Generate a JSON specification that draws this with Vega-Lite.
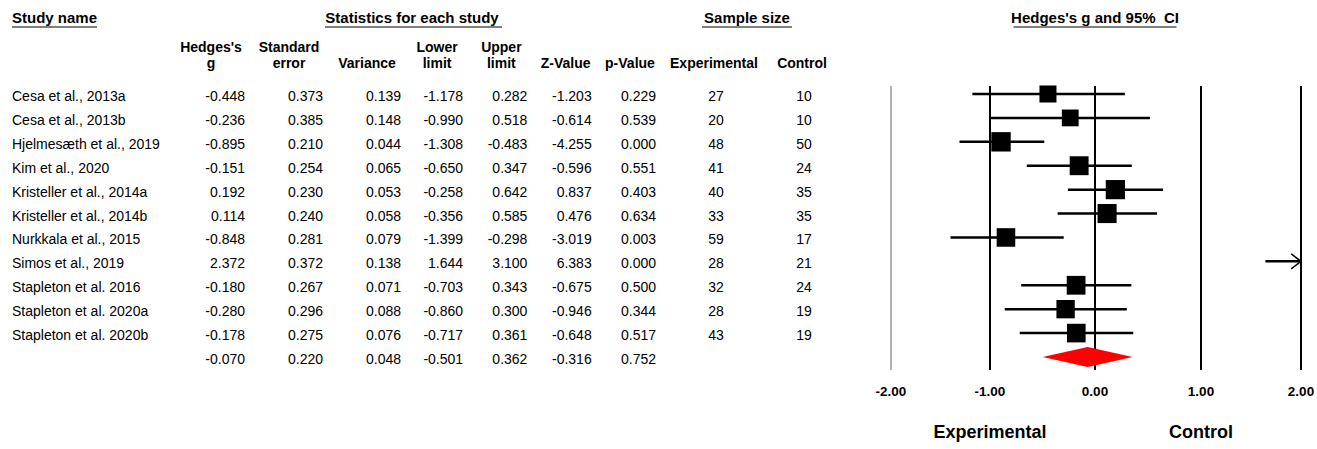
{
  "$schema": "https://vega.github.io/schema/vega-lite/v6.json",
  "width": 1317,
  "height": 449,
  "padding": 0,
  "autosize": {"type": "none"},
  "background": "white",
  "config": {
    "view": {"stroke": null},
    "font": "Liberation Sans",
    "text": {"font": "Liberation Sans", "color": "black"},
    "locale": {"number": {"decimal": ".", "thousands": ",", "grouping": [3], "currency": ["$", ""], "minus": "-"}}
  },
  "datasets": {
    "studies": [
      {"study": "Cesa et al., 2013a", "kind": "study", "g": -0.448, "se": 0.373, "var": 0.139, "lo": -1.178, "hi": 0.282, "z": -1.203, "p": 0.229, "ne": 27, "nc": 10},
      {"study": "Cesa et al., 2013b", "kind": "study", "g": -0.236, "se": 0.385, "var": 0.148, "lo": -0.990, "hi": 0.518, "z": -0.614, "p": 0.539, "ne": 20, "nc": 10},
      {"study": "Hjelmesæth et al., 2019", "kind": "study", "g": -0.895, "se": 0.210, "var": 0.044, "lo": -1.308, "hi": -0.483, "z": -4.255, "p": 0.000, "ne": 48, "nc": 50},
      {"study": "Kim et al., 2020", "kind": "study", "g": -0.151, "se": 0.254, "var": 0.065, "lo": -0.650, "hi": 0.347, "z": -0.596, "p": 0.551, "ne": 41, "nc": 24},
      {"study": "Kristeller et al., 2014a", "kind": "study", "g": 0.192, "se": 0.230, "var": 0.053, "lo": -0.258, "hi": 0.642, "z": 0.837, "p": 0.403, "ne": 40, "nc": 35},
      {"study": "Kristeller et al., 2014b", "kind": "study", "g": 0.114, "se": 0.240, "var": 0.058, "lo": -0.356, "hi": 0.585, "z": 0.476, "p": 0.634, "ne": 33, "nc": 35},
      {"study": "Nurkkala et al., 2015", "kind": "study", "g": -0.848, "se": 0.281, "var": 0.079, "lo": -1.399, "hi": -0.298, "z": -3.019, "p": 0.003, "ne": 59, "nc": 17},
      {"study": "Simos et al., 2019", "kind": "study", "g": 2.372, "se": 0.372, "var": 0.138, "lo": 1.644, "hi": 3.100, "z": 6.383, "p": 0.000, "ne": 28, "nc": 21},
      {"study": "Stapleton et al. 2016", "kind": "study", "g": -0.180, "se": 0.267, "var": 0.071, "lo": -0.703, "hi": 0.343, "z": -0.675, "p": 0.500, "ne": 32, "nc": 24},
      {"study": "Stapleton et al. 2020a", "kind": "study", "g": -0.280, "se": 0.296, "var": 0.088, "lo": -0.860, "hi": 0.300, "z": -0.946, "p": 0.344, "ne": 28, "nc": 19},
      {"study": "Stapleton et al. 2020b", "kind": "study", "g": -0.178, "se": 0.275, "var": 0.076, "lo": -0.717, "hi": 0.361, "z": -0.648, "p": 0.517, "ne": 43, "nc": 19},
      {"study": "Summary", "kind": "summary", "g": -0.070, "se": 0.220, "var": 0.048, "lo": -0.501, "hi": 0.362, "z": -0.316, "p": 0.752, "ne": null, "nc": null}
    ],
    "headers": [
      {"grp": "name", "row": "grp", "col": "name", "text": "Study name"},
      {"grp": "b2", "row": "grp", "col": "lo", "text": "Statistics for each study"},
      {"grp": "ss", "row": "grp", "col": "ne", "text": "Sample size"},
      {"grp": "fp", "row": "grp", "at": 0, "text": "Hedges's g and 95%\u00a0 CI"},
      {"grp": "b1", "row": "col", "col": "g", "text": ["Hedges's", "g"]},
      {"grp": "b1", "row": "col", "col": "se", "text": ["Standard", "error"]},
      {"grp": "b1", "row": "col", "col": "var", "text": ["", "Variance"]},
      {"grp": "b2", "row": "col", "col": "lo", "text": ["Lower", "limit"]},
      {"grp": "b2", "row": "col", "col": "hi", "text": ["Upper", "limit"]},
      {"grp": "b2", "row": "col", "col": "z", "text": ["", "Z-Value"]},
      {"grp": "b2", "row": "col", "col": "p", "text": ["", "p-Value"]},
      {"grp": "ss", "row": "col", "col": "ne", "text": ["", "Experimental"]},
      {"grp": "ss", "row": "col", "col": "nc", "text": ["", "Control"]}
    ],
    "ticks": [{"g": -2}, {"g": -1}, {"g": 0}, {"g": 1}, {"g": 2}],
    "sides": [{"label": "Experimental", "at": -1}, {"label": "Control", "at": 1}]
  },
  "resolve": {"scale": {"x": "independent", "y": "independent", "size": "independent"}},
  "layer": [
    {
      "data": {"name": "studies"},
      "transform": [{"filter": "datum.kind == 'study'"}],
      "mark": {"type": "text", "align": "left", "baseline": "middle", "dy": 3, "fontSize": 14},
      "encoding": {
        "x": {"datum": "name", "type": "nominal", "scale": {"type": "point", "domain": ["name"], "range": [12, 12], "padding": 0}, "axis": null},
        "y": {"field": "study", "type": "nominal", "scale": {"type": "point", "domain": ["Cesa et al., 2013a", "Cesa et al., 2013b", "Hjelmesæth et al., 2019", "Kim et al., 2020", "Kristeller et al., 2014a", "Kristeller et al., 2014b", "Nurkkala et al., 2015", "Simos et al., 2019", "Stapleton et al. 2016", "Stapleton et al. 2020a", "Stapleton et al. 2020b", "Summary"], "range": [94, 357], "padding": 0}, "axis": null},
        "text": {"field": "study", "type": "nominal"}
      }
    },
    {
      "data": {"name": "headers"},
      "transform": [{"filter": "datum.grp == 'name'"}],
      "layer": [
        {"mark": {"type": "text", "align": "left", "baseline": "alphabetic", "fontSize": 15, "fontWeight": "bold"},
         "encoding": {"text": {"field": "text", "type": "nominal"}}},
        {"mark": {"type": "tick", "orient": "horizontal", "size": 85, "thickness": 1.5, "color": "#555555", "opacity": 1, "xOffset": 42.5, "yOffset": 4}}
      ],
      "encoding": {
        "x": {"field": "col", "type": "nominal", "scale": {"type": "point", "domain": ["name"], "range": [12, 12], "padding": 0}, "axis": null},
        "y": {"field": "row", "type": "nominal", "scale": {"type": "point", "domain": ["grp", "col"], "range": [23, 52], "padding": 0}, "axis": null}
      }
    },
    {
      "data": {"name": "studies"},
      "transform": [{"fold": ["g", "se", "var"], "as": ["col", "val"]}],
      "mark": {"type": "text", "align": "right", "baseline": "middle", "dy": 3, "fontSize": 14},
      "encoding": {
        "x": {"field": "col", "type": "nominal", "scale": {"type": "band", "domain": ["g", "se", "var"], "range": [177, 401], "paddingInner": 0.128, "paddingOuter": 0}, "bandPosition": 1, "axis": null},
        "y": {"field": "study", "type": "nominal", "scale": {"type": "point", "domain": ["Cesa et al., 2013a", "Cesa et al., 2013b", "Hjelmesæth et al., 2019", "Kim et al., 2020", "Kristeller et al., 2014a", "Kristeller et al., 2014b", "Nurkkala et al., 2015", "Simos et al., 2019", "Stapleton et al. 2016", "Stapleton et al. 2020a", "Stapleton et al. 2020b", "Summary"], "range": [94, 357], "padding": 0}, "axis": null},
        "text": {"field": "val", "type": "quantitative", "format": ".3f"}
      }
    },
    {
      "data": {"name": "headers"},
      "transform": [{"filter": "datum.grp == 'b1'"}],
      "mark": {"type": "text", "align": "center", "baseline": "alphabetic", "fontSize": 14, "fontWeight": "bold", "lineHeight": 16},
      "encoding": {
        "x": {"field": "col", "type": "nominal", "scale": {"type": "band", "domain": ["g", "se", "var"], "range": [177, 401], "paddingInner": 0.128, "paddingOuter": 0}, "bandPosition": 0.5, "axis": null},
        "y": {"field": "row", "type": "nominal", "scale": {"type": "point", "domain": ["grp", "col"], "range": [23, 52], "padding": 0}, "axis": null},
        "text": {"field": "text", "type": "nominal"}
      }
    },
    {
      "data": {"name": "studies"},
      "transform": [{"fold": ["lo", "hi", "z", "p"], "as": ["col", "val"]}],
      "mark": {"type": "text", "align": "right", "baseline": "middle", "dy": 3, "fontSize": 14},
      "encoding": {
        "x": {"field": "col", "type": "nominal", "scale": {"type": "band", "domain": ["lo", "hi", "z", "p"], "range": [411, 656], "paddingInner": 0.19, "paddingOuter": 0}, "bandPosition": 1, "axis": null},
        "y": {"field": "study", "type": "nominal", "scale": {"type": "point", "domain": ["Cesa et al., 2013a", "Cesa et al., 2013b", "Hjelmesæth et al., 2019", "Kim et al., 2020", "Kristeller et al., 2014a", "Kristeller et al., 2014b", "Nurkkala et al., 2015", "Simos et al., 2019", "Stapleton et al. 2016", "Stapleton et al. 2020a", "Stapleton et al. 2020b", "Summary"], "range": [94, 357], "padding": 0}, "axis": null},
        "text": {"field": "val", "type": "quantitative", "format": ".3f"}
      }
    },
    {
      "data": {"name": "headers"},
      "transform": [{"filter": "datum.grp == 'b2' && datum.row == 'col'"}],
      "mark": {"type": "text", "align": "center", "baseline": "alphabetic", "fontSize": 14, "fontWeight": "bold", "lineHeight": 16},
      "encoding": {
        "x": {"field": "col", "type": "nominal", "scale": {"type": "band", "domain": ["lo", "hi", "z", "p"], "range": [411, 656], "paddingInner": 0.19, "paddingOuter": 0}, "bandPosition": 0.5, "axis": null},
        "y": {"field": "row", "type": "nominal", "scale": {"type": "point", "domain": ["grp", "col"], "range": [23, 52], "padding": 0}, "axis": null},
        "text": {"field": "text", "type": "nominal"}
      }
    },
    {
      "data": {"name": "headers"},
      "transform": [{"filter": "datum.grp == 'b2' && datum.row == 'grp'"}],
      "layer": [
        {"mark": {"type": "text", "align": "center", "baseline": "alphabetic", "fontSize": 15, "fontWeight": "bold", "dx": 1},
         "encoding": {"text": {"field": "text", "type": "nominal"}}},
        {"mark": {"type": "tick", "orient": "horizontal", "size": 177, "thickness": 1.5, "color": "#555555", "opacity": 1, "xOffset": 2.5, "yOffset": 4}}
      ],
      "encoding": {
        "x": {"field": "col", "type": "nominal", "scale": {"type": "point", "domain": ["lo", "hi", "z", "p"], "range": [411, 603.9], "padding": 0}, "axis": null},
        "y": {"field": "row", "type": "nominal", "scale": {"type": "point", "domain": ["grp", "col"], "range": [23, 52], "padding": 0}, "axis": null}
      }
    },
    {
      "data": {"name": "studies"},
      "transform": [{"fold": ["ne", "nc"], "as": ["col", "val"]}, {"filter": "isValid(datum.val)"}],
      "mark": {"type": "text", "align": "center", "baseline": "middle", "dy": 3, "dx": 2, "fontSize": 14},
      "encoding": {
        "x": {"field": "col", "type": "nominal", "scale": {"type": "band", "domain": ["ne", "nc"], "range": [670, 846], "paddingInner": 0, "paddingOuter": 0}, "bandPosition": 0.5, "axis": null},
        "y": {"field": "study", "type": "nominal", "scale": {"type": "point", "domain": ["Cesa et al., 2013a", "Cesa et al., 2013b", "Hjelmesæth et al., 2019", "Kim et al., 2020", "Kristeller et al., 2014a", "Kristeller et al., 2014b", "Nurkkala et al., 2015", "Simos et al., 2019", "Stapleton et al. 2016", "Stapleton et al. 2020a", "Stapleton et al. 2020b", "Summary"], "range": [94, 357], "padding": 0}, "axis": null},
        "text": {"field": "val", "type": "quantitative", "format": "d"}
      }
    },
    {
      "data": {"name": "headers"},
      "transform": [{"filter": "datum.grp == 'ss' && datum.row == 'col'"}],
      "mark": {"type": "text", "align": "center", "baseline": "alphabetic", "fontSize": 14, "fontWeight": "bold", "lineHeight": 16},
      "encoding": {
        "x": {"field": "col", "type": "nominal", "scale": {"type": "band", "domain": ["ne", "nc"], "range": [670, 846], "paddingInner": 0, "paddingOuter": 0}, "bandPosition": 0.5, "axis": null},
        "y": {"field": "row", "type": "nominal", "scale": {"type": "point", "domain": ["grp", "col"], "range": [23, 52], "padding": 0}, "axis": null},
        "text": {"field": "text", "type": "nominal"}
      }
    },
    {
      "data": {"name": "headers"},
      "transform": [{"filter": "datum.grp == 'ss' && datum.row == 'grp'"}],
      "layer": [
        {"mark": {"type": "text", "align": "center", "baseline": "alphabetic", "fontSize": 15, "fontWeight": "bold", "dx": 33},
         "encoding": {"text": {"field": "text", "type": "nominal"}}},
        {"mark": {"type": "tick", "orient": "horizontal", "size": 90, "thickness": 1.5, "color": "#555555", "opacity": 1, "xOffset": 33, "yOffset": 4}}
      ],
      "encoding": {
        "x": {"field": "col", "type": "nominal", "scale": {"type": "point", "domain": ["ne", "nc"], "range": [714, 802], "padding": 0}, "axis": null},
        "y": {"field": "row", "type": "nominal", "scale": {"type": "point", "domain": ["grp", "col"], "range": [23, 52], "padding": 0}, "axis": null}
      }
    },
    {
      "data": {"name": "ticks"},
      "mark": {"type": "rule", "yOffset": -8, "y2Offset": 13},
      "encoding": {
        "x": {"field": "g", "type": "quantitative", "scale": {"type": "linear", "domain": [-2, -1, 0, 1, 2], "range": [891, 990, 1095, 1201, 1301], "clamp": true, "zero": false, "nice": false}, "axis": null},
        "y": {"datum": "Cesa et al., 2013a", "type": "nominal", "scale": {"type": "point", "domain": ["Cesa et al., 2013a", "Cesa et al., 2013b", "Hjelmesæth et al., 2019", "Kim et al., 2020", "Kristeller et al., 2014a", "Kristeller et al., 2014b", "Nurkkala et al., 2015", "Simos et al., 2019", "Stapleton et al. 2016", "Stapleton et al. 2020a", "Stapleton et al. 2020b", "Summary"], "range": [94, 357], "padding": 0}, "axis": null},
        "y2": {"datum": "Summary"},
        "color": {"condition": {"test": "datum.g == -2", "value": "#666666"}, "value": "black"},
        "strokeWidth": {"condition": {"test": "datum.g == -2", "value": 1}, "value": 2}
      }
    },
    {
      "data": {"name": "studies"},
      "transform": [{"filter": "datum.kind == 'study'"}],
      "layer": [
        {"mark": {"type": "rule", "strokeWidth": 2.5, "color": "black"},
         "encoding": {
           "x": {"field": "lo", "type": "quantitative", "scale": {"type": "linear", "domain": [-2, -1, 0, 1, 2], "range": [891, 990, 1095, 1201, 1301], "clamp": true, "zero": false, "nice": false}, "axis": null},
           "x2": {"field": "hi"}
         }},
        {"transform": [{"filter": "datum.g <= 2"}],
         "mark": {"type": "point", "shape": "square", "filled": true, "color": "black", "opacity": 1},
         "encoding": {
           "x": {"field": "g", "type": "quantitative", "axis": null},
           "size": {"field": "var", "type": "quantitative", "scale": {"domain": [0.04, 0.15], "range": [380, 280]}, "legend": null}
         }},
        {"transform": [{"filter": "datum.hi > 2"}],
         "mark": {"type": "point", "shape": "M-1.3,-1L0,0L-1.3,1", "filled": false, "color": "black", "strokeWidth": 1.5, "size": 225, "opacity": 1},
         "encoding": {"x": {"field": "hi", "type": "quantitative", "axis": null}}}
      ],
      "encoding": {
        "y": {"field": "study", "type": "nominal", "scale": {"type": "point", "domain": ["Cesa et al., 2013a", "Cesa et al., 2013b", "Hjelmesæth et al., 2019", "Kim et al., 2020", "Kristeller et al., 2014a", "Kristeller et al., 2014b", "Nurkkala et al., 2015", "Simos et al., 2019", "Stapleton et al. 2016", "Stapleton et al. 2020a", "Stapleton et al. 2020b", "Summary"], "range": [94, 357], "padding": 0}, "axis": null}
      }
    },
    {
      "data": {"name": "studies"},
      "transform": [{"filter": "datum.kind == 'summary'"}],
      "mark": {"type": "point", "shape": "M-1,0L0,-0.22L1,0L0,0.22Z", "filled": true, "color": "#ff0000", "size": 8100, "opacity": 1, "strokeWidth": 0},
      "encoding": {
        "x": {"field": "g", "type": "quantitative", "scale": {"type": "linear", "domain": [-2, -1, 0, 1, 2], "range": [891, 990, 1095, 1201, 1301], "clamp": true, "zero": false, "nice": false}, "axis": null},
        "y": {"field": "study", "type": "nominal", "scale": {"type": "point", "domain": ["Cesa et al., 2013a", "Cesa et al., 2013b", "Hjelmesæth et al., 2019", "Kim et al., 2020", "Kristeller et al., 2014a", "Kristeller et al., 2014b", "Nurkkala et al., 2015", "Simos et al., 2019", "Stapleton et al. 2016", "Stapleton et al. 2020a", "Stapleton et al. 2020b", "Summary"], "range": [94, 357], "padding": 0}, "axis": null}
      }
    },
    {
      "data": {"name": "ticks"},
      "mark": {"type": "text", "align": "center", "baseline": "alphabetic", "fontSize": 13.5, "fontWeight": "bold"},
      "encoding": {
        "x": {"field": "g", "type": "quantitative", "scale": {"type": "linear", "domain": [-2, -1, 0, 1, 2], "range": [891, 990, 1095, 1201, 1301], "clamp": true, "zero": false, "nice": false}, "axis": null},
        "y": {"datum": "ticks", "type": "nominal", "scale": {"type": "point", "domain": ["ticks", "sides"], "range": [396, 438], "padding": 0}, "axis": null},
        "text": {"field": "g", "type": "quantitative", "format": ".2f"}
      }
    },
    {
      "data": {"name": "sides"},
      "mark": {"type": "text", "align": "center", "baseline": "alphabetic", "fontSize": 18, "fontWeight": "bold"},
      "encoding": {
        "x": {"field": "at", "type": "quantitative", "scale": {"type": "linear", "domain": [-2, -1, 0, 1, 2], "range": [891, 990, 1095, 1201, 1301], "clamp": true, "zero": false, "nice": false}, "axis": null},
        "y": {"datum": "sides", "type": "nominal", "scale": {"type": "point", "domain": ["ticks", "sides"], "range": [396, 438], "padding": 0}, "axis": null},
        "text": {"field": "label", "type": "nominal"}
      }
    },
    {
      "data": {"name": "headers"},
      "transform": [{"filter": "datum.grp == 'fp'"}],
      "layer": [
        {"mark": {"type": "text", "align": "center", "baseline": "alphabetic", "fontSize": 15, "fontWeight": "bold"},
         "encoding": {"text": {"field": "text", "type": "nominal"}}},
        {"mark": {"type": "tick", "orient": "horizontal", "size": 163, "thickness": 1.5, "color": "#555555", "opacity": 1, "yOffset": 4}}
      ],
      "encoding": {
        "x": {"field": "at", "type": "quantitative", "scale": {"type": "linear", "domain": [-2, -1, 0, 1, 2], "range": [891, 990, 1095, 1201, 1301], "clamp": true, "zero": false, "nice": false}, "axis": null},
        "y": {"field": "row", "type": "nominal", "scale": {"type": "point", "domain": ["grp", "col"], "range": [23, 52], "padding": 0}, "axis": null}
      }
    }
  ]
}
